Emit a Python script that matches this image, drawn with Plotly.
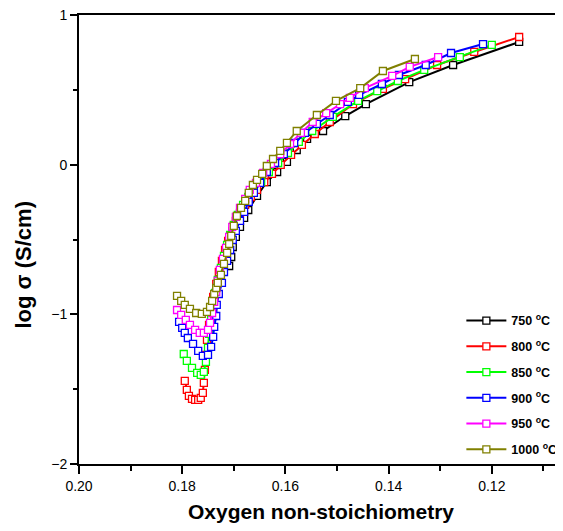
import plotly.graph_objects as go

# Temperatures (legend labels) and colours
temps = ["750", "800", "850", "900", "950", "1000"]
colors = ["#000000", "#FF0000", "#00FF00", "#0000FF", "#FF00FF", "#808000"]

# oxygen non-stoichiometry (x) and log sigma (y) for each temperature
x_750 = [0.1709, 0.1705, 0.1702, 0.1696, 0.1688, 0.1680, 0.1672, 0.1655, 0.1636, 0.1616,
         0.1597, 0.1578, 0.1558, 0.1527, 0.1484, 0.1444, 0.1360, 0.1275, 0.1147]
y_750 = [-0.677, -0.617, -0.550, -0.483, -0.416, -0.356, -0.303, -0.209, -0.116, -0.049,
         0.018, 0.098, 0.172, 0.225, 0.325, 0.405, 0.552, 0.666, 0.820]

x_800 = [0.1795, 0.1791, 0.1787, 0.1781, 0.1775, 0.1769, 0.1764, 0.1760, 0.1758, 0.1756,
         0.1754, 0.1752, 0.1748, 0.1744, 0.1740, 0.1734, 0.1729, 0.1723, 0.1717, 0.1711,
         0.1703, 0.1696, 0.1688, 0.1678, 0.1667, 0.1655, 0.1641, 0.1626, 0.1609, 0.1589,
         0.1568, 0.1543, 0.1514, 0.1469, 0.1411, 0.1368, 0.1306, 0.1234, 0.1147]
y_800 = [-1.445, -1.505, -1.545, -1.565, -1.572, -1.572, -1.558, -1.525, -1.458, -1.371,
         -1.271, -1.171, -1.071, -0.971, -0.884, -0.797, -0.717, -0.643, -0.570, -0.510,
         -0.443, -0.376, -0.323, -0.269, -0.216, -0.169, -0.116, -0.062, -0.002, 0.065,
         0.132, 0.205, 0.285, 0.405, 0.506, 0.572, 0.666, 0.753, 0.853]

x_850 = [0.1797, 0.1791, 0.1781, 0.1771, 0.1764, 0.1758, 0.1754, 0.1750, 0.1748, 0.1744,
         0.1740, 0.1736, 0.1731, 0.1725, 0.1719, 0.1713, 0.1707, 0.1700, 0.1692, 0.1682,
         0.1672, 0.1661, 0.1647, 0.1632, 0.1614, 0.1595, 0.1574, 0.1548, 0.1508, 0.1459,
         0.1422, 0.1382, 0.1331, 0.1262, 0.1200]
y_850 = [-1.265, -1.311, -1.358, -1.391, -1.405, -1.385, -1.318, -1.224, -1.131, -1.037,
         -0.944, -0.857, -0.770, -0.690, -0.610, -0.536, -0.470, -0.403, -0.336, -0.269,
         -0.216, -0.169, -0.116, -0.049, 0.011, 0.078, 0.152, 0.225, 0.319, 0.426,
         0.492, 0.559, 0.633, 0.719, 0.800]

x_900 = [0.1806, 0.1800, 0.1795, 0.1789, 0.1779, 0.1769, 0.1760, 0.1750, 0.1744, 0.1740,
         0.1738, 0.1734, 0.1733, 0.1729, 0.1723, 0.1719, 0.1713, 0.1707, 0.1702, 0.1696,
         0.1688, 0.1680, 0.1671, 0.1661, 0.1649, 0.1636, 0.1620, 0.1603, 0.1583, 0.1562,
         0.1539, 0.1514, 0.1479, 0.1457, 0.1413, 0.1380, 0.1328, 0.1279, 0.1217]
y_900 = [-1.051, -1.091, -1.124, -1.158, -1.198, -1.244, -1.278, -1.271, -1.218, -1.151,
         -1.084, -1.011, -0.937, -0.864, -0.790, -0.717, -0.643, -0.570, -0.503, -0.443,
         -0.376, -0.316, -0.249, -0.189, -0.122, -0.049, 0.011, 0.071, 0.145, 0.212,
         0.272, 0.332, 0.419, 0.466, 0.539, 0.599, 0.666, 0.746, 0.806]

x_950 = [0.1810, 0.1802, 0.1793, 0.1785, 0.1775, 0.1766, 0.1758, 0.1750, 0.1746, 0.1742,
         0.1738, 0.1734, 0.1731, 0.1727, 0.1721, 0.1715, 0.1709, 0.1703, 0.1696, 0.1688,
         0.1678, 0.1669, 0.1657, 0.1643, 0.1628, 0.1610, 0.1591, 0.1570, 0.1547, 0.1521,
         0.1494, 0.1475, 0.1446, 0.1393, 0.1359, 0.1304]
y_950 = [-0.971, -1.004, -1.037, -1.071, -1.104, -1.124, -1.124, -1.104, -1.057, -0.991,
         -0.917, -0.850, -0.777, -0.703, -0.630, -0.556, -0.483, -0.416, -0.349, -0.289,
         -0.229, -0.169, -0.122, -0.055, 0.005, 0.071, 0.138, 0.212, 0.285, 0.345,
         0.405, 0.446, 0.512, 0.593, 0.653, 0.719]

x_1000 = [0.1810, 0.1802, 0.1795, 0.1785, 0.1773, 0.1762, 0.1752, 0.1746, 0.1742, 0.1738,
          0.1734, 0.1731, 0.1725, 0.1719, 0.1713, 0.1709, 0.1705, 0.1700, 0.1694, 0.1686,
          0.1678, 0.1671, 0.1663, 0.1655, 0.1645, 0.1636, 0.1624, 0.1610, 0.1597, 0.1578,
          0.1539, 0.1502, 0.1455, 0.1411, 0.1349]
y_1000 = [-0.877, -0.910, -0.937, -0.964, -0.991, -0.997, -0.984, -0.951, -0.910, -0.864,
          -0.824, -0.790, -0.737, -0.663, -0.590, -0.530, -0.476, -0.409, -0.343, -0.289,
          -0.242, -0.189, -0.136, -0.102, -0.062, -0.009, 0.038, 0.092, 0.145, 0.225,
          0.332, 0.426, 0.512, 0.626, 0.706]

xs = [x_750, x_800, x_850, x_900, x_950, x_1000]
ys = [y_750, y_800, y_850, y_900, y_950, y_1000]

font = "Liberation Sans, Arial, sans-serif"

fig = go.Figure()
for t, c, x, y in zip(temps, colors, xs, ys):
    fig.add_trace(go.Scatter(
        x=x, y=y,
        mode="lines+markers",
        name="<b>" + t + " <sup>o</sup>C</b>",
        legendgroup=t,
        line=dict(color=c, width=2),
        marker=dict(symbol="square", size=7, color="white",
                    line=dict(color=c, width=1.3)),
    ))

# the page body adds an 8px offset, so the figure is 8px smaller than the window
fig.update_layout(
    width=555, height=523,
    margin=dict(l=71, r=0, t=7, b=67, autoexpand=False),
    paper_bgcolor="white", plot_bgcolor="white",
    font=dict(family=font, color="black"),
    legend=dict(
        x=0.79, y=0.352, xanchor="left", yanchor="top",
        font=dict(family=font, size=12.5, color="black"),
        bgcolor="rgba(0,0,0,0)",
        itemwidth=40,
        tracegroupgap=6.5,
    ),
    xaxis=dict(
        range=[0.20, 0.1062],
        tickvals=[0.20, 0.18, 0.16, 0.14, 0.12],
        tickformat=".2f",
        ticks="outside", ticklen=8, tickwidth=2, tickcolor="black",
        showline=True, linewidth=2, linecolor="black", mirror=True,
        showgrid=False, zeroline=False, automargin=False,
        ticklabeloverflow="allow",
        tickfont=dict(size=14),
        minor=dict(dtick=0.01, tick0=0.19, ticks="outside", ticklen=5,
                   tickwidth=2, tickcolor="black", showgrid=False),
        title=dict(text="<b>Oxygen non-stoichiometry</b>",
                   font=dict(size=21), standoff=12),
    ),
    yaxis=dict(
        range=[-2, 1],
        tickvals=[-2, -1, 0, 1],
        ticks="outside", ticklen=7, tickwidth=2, tickcolor="black",
        showline=True, linewidth=2, linecolor="black",
        showgrid=False, zeroline=False, automargin=False,
        ticklabeloverflow="allow",
        tickfont=dict(size=14),
        minor=dict(dtick=0.5, ticks="outside", ticklen=4,
                   tickwidth=2, tickcolor="black", showgrid=False),
    ),
    annotations=[dict(
        text="<b>log \u03c3 (S/cm)</b>", textangle=-90,
        xref="paper", yref="paper", x=-0.115, y=0.445,
        xanchor="center", yanchor="middle", showarrow=False,
        font=dict(size=22, family=font, color="black"),
    )],
)

fig.write_html("out.html")
